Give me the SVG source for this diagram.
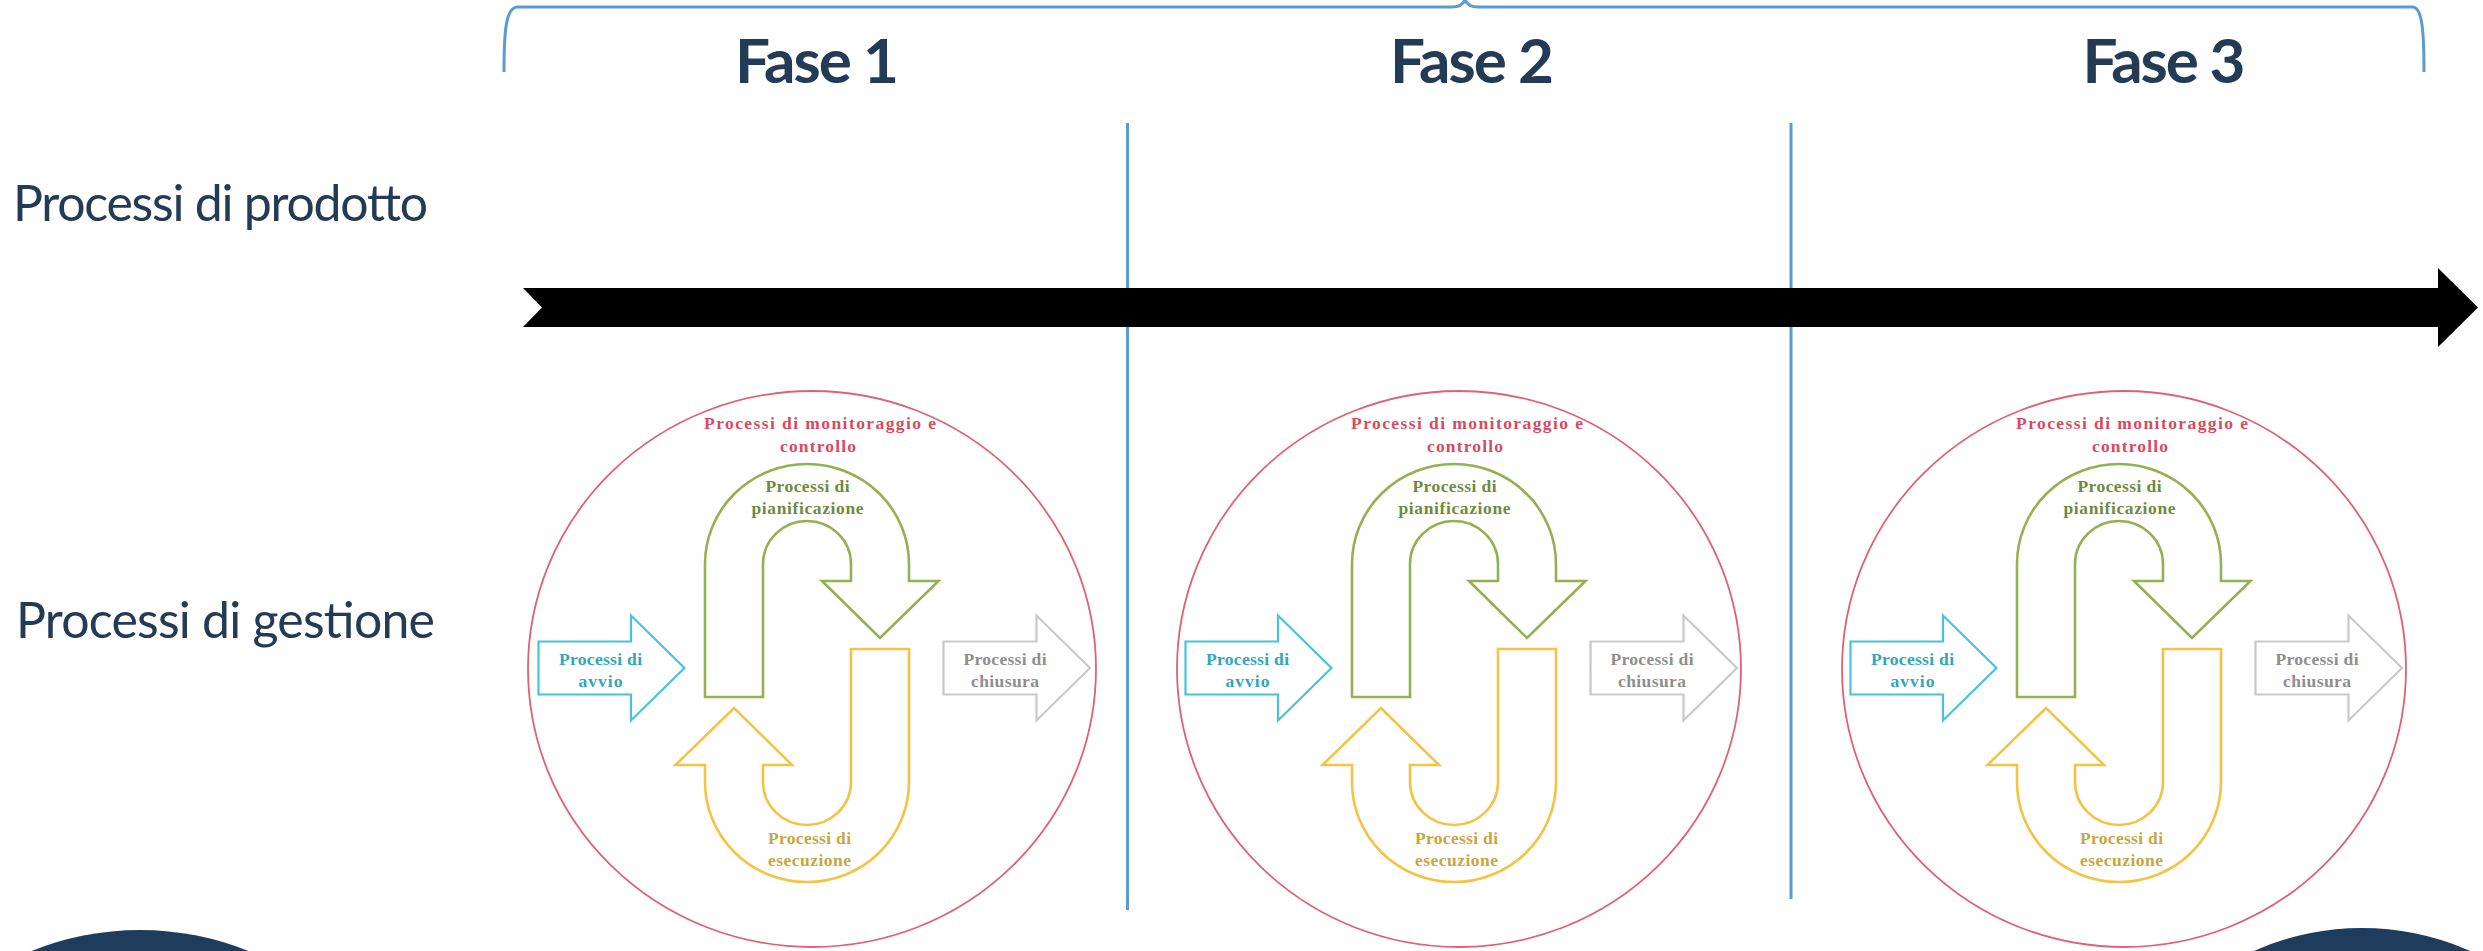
<svg xmlns="http://www.w3.org/2000/svg" width="2483" height="951" viewBox="0 0 2483 951">
<style>
.lbl{font-family:"Lato","Liberation Sans",sans-serif;fill:#243B55}
.fase{font-family:"Lato","Liberation Sans",sans-serif;font-weight:bold;font-size:62px;fill:#243B55;text-anchor:middle}
.side{font-size:50px}
.ring{fill:none;stroke:#E06272;stroke-width:1.8}
.t{font-family:"Liberation Serif","Times New Roman",serif;font-weight:bold;font-size:17.5px;text-anchor:middle}
.red{fill:#D94A5E}
.grn{fill:#6E8B3D}
.ylw{fill:#C9A53F}
.blu{fill:#2FA6BD}
.gry{fill:#8E8E8E}
.gshape{fill:#fff;stroke:#93B152;stroke-width:2.6;stroke-linejoin:miter}
.yshape{fill:#fff;stroke:#F4C343;stroke-width:2.6}
.bshape{fill:#fff;stroke:#45C3DC;stroke-width:2.2}
.cshape{fill:#fff;stroke:#C9C9C9;stroke-width:2.2}
.div{stroke:#5B9BD5;stroke-width:3;fill:none}
</style>
<defs>
<path id="uarrow" d="M -102,24 L -102,-109 A 102 100 0 0 1 102,-109 L 102,-92 L 131.5,-92 L 73,-35 L 15,-92 L 44,-92 L 44,-109 A 44 43 0 0 0 -44,-109 L -44,24 Z"/>
</defs>

<g id="connectors">
<path id="brace" class="div" d="M 504,72 C 504,30 506,8 517,7 L 1452,7 C 1460,7 1463,4 1465,0 C 1467,4 1470,7 1478,7 L 2413,7 C 2422,8 2424,30 2424,72"/>
<line id="divider1" class="div" x1="1127.5" y1="123" x2="1127.5" y2="910"/>
<line id="divider2" class="div" x1="1791" y1="123" x2="1791" y2="899"/>
<path id="timeline" fill="#000" d="M 523,288 L 2438,288 L 2438,268 L 2478,307.5 L 2438,347 L 2438,327 L 523,327 L 542,307.5 Z"/>
</g>

<g id="headers">
<text class="fase" x="817" y="83" textLength="164">Fase 1</text>
<text class="fase" x="1472" y="83" textLength="164">Fase 2</text>
<text class="fase" x="2164" y="83" textLength="163">Fase 3</text>
</g>

<g id="row-labels">
<text class="lbl side" x="13" y="221" textLength="415">Processi di prodotto</text>
<text class="lbl side" x="16" y="638" textLength="419">Processi di gestione</text>
</g>

<g id="phase1" transform="translate(812,669)">
<ellipse class="ring" cx="0" cy="0" rx="284" ry="278"/>
<text class="t red" x="8" y="-240" textLength="232">Processi di monitoraggio e</text>
<text class="t red" x="6" y="-217" textLength="76">controllo</text>
<g transform="translate(-5,4)">
<use href="#uarrow" class="gshape"/>
<use href="#uarrow" class="yshape" transform="rotate(180)"/>
</g>
<text class="t grn" x="-4.5" y="-177" textLength="84">Processi di</text>
<text class="t grn" x="-4.5" y="-155" textLength="112">pianificazione</text>
<text class="t ylw" x="-2.5" y="175" textLength="83">Processi di</text>
<text class="t ylw" x="-2.5" y="197" textLength="83">esecuzione</text>
<path class="bshape" d="M -273.5,-27.5 L -181,-27.5 L -181,-53.5 L -127.5,-1 L -181,51.5 L -181,25.5 L -273.5,25.5 Z"/>
<text class="t blu" x="-211.5" y="-4" textLength="83">Processi di</text>
<text class="t blu" x="-211.5" y="18" textLength="44">avvio</text>
<path class="cshape" d="M 131.5,-27.5 L 224.5,-27.5 L 224.5,-53.5 L 278,-1 L 224.5,51.5 L 224.5,25.5 L 131.5,25.5 Z"/>
<text class="t gry" x="193" y="-4" textLength="83">Processi di</text>
<text class="t gry" x="193" y="18" textLength="68">chiusura</text>
</g>

<g id="phase2" transform="translate(1459,669)">
<ellipse class="ring" cx="0" cy="0" rx="282" ry="278"/>
<text class="t red" x="8" y="-240" textLength="232">Processi di monitoraggio e</text>
<text class="t red" x="6" y="-217" textLength="76">controllo</text>
<g transform="translate(-5,4)">
<use href="#uarrow" class="gshape"/>
<use href="#uarrow" class="yshape" transform="rotate(180)"/>
</g>
<text class="t grn" x="-4.5" y="-177" textLength="84">Processi di</text>
<text class="t grn" x="-4.5" y="-155" textLength="112">pianificazione</text>
<text class="t ylw" x="-2.5" y="175" textLength="83">Processi di</text>
<text class="t ylw" x="-2.5" y="197" textLength="83">esecuzione</text>
<path class="bshape" d="M -273.5,-27.5 L -181,-27.5 L -181,-53.5 L -127.5,-1 L -181,51.5 L -181,25.5 L -273.5,25.5 Z"/>
<text class="t blu" x="-211.5" y="-4" textLength="83">Processi di</text>
<text class="t blu" x="-211.5" y="18" textLength="44">avvio</text>
<path class="cshape" d="M 131.5,-27.5 L 224.5,-27.5 L 224.5,-53.5 L 278,-1 L 224.5,51.5 L 224.5,25.5 L 131.5,25.5 Z"/>
<text class="t gry" x="193" y="-4" textLength="83">Processi di</text>
<text class="t gry" x="193" y="18" textLength="68">chiusura</text>
</g>

<g id="phase3" transform="translate(2124,669)">
<ellipse class="ring" cx="0" cy="0" rx="282" ry="278"/>
<text class="t red" x="8" y="-240" textLength="232">Processi di monitoraggio e</text>
<text class="t red" x="6" y="-217" textLength="76">controllo</text>
<g transform="translate(-5,4)">
<use href="#uarrow" class="gshape"/>
<use href="#uarrow" class="yshape" transform="rotate(180)"/>
</g>
<text class="t grn" x="-4.5" y="-177" textLength="84">Processi di</text>
<text class="t grn" x="-4.5" y="-155" textLength="112">pianificazione</text>
<text class="t ylw" x="-2.5" y="175" textLength="83">Processi di</text>
<text class="t ylw" x="-2.5" y="197" textLength="83">esecuzione</text>
<path class="bshape" d="M -273.5,-27.5 L -181,-27.5 L -181,-53.5 L -127.5,-1 L -181,51.5 L -181,25.5 L -273.5,25.5 Z"/>
<text class="t blu" x="-211.5" y="-4" textLength="83">Processi di</text>
<text class="t blu" x="-211.5" y="18" textLength="44">avvio</text>
<path class="cshape" d="M 131.5,-27.5 L 224.5,-27.5 L 224.5,-53.5 L 278,-1 L 224.5,51.5 L 224.5,25.5 L 131.5,25.5 Z"/>
<text class="t gry" x="193" y="-4" textLength="83">Processi di</text>
<text class="t gry" x="193" y="18" textLength="68">chiusura</text>
</g>

<g id="corner-left"><ellipse cx="140" cy="1221" rx="291" ry="291" fill="#1E3D5C"/></g>
<g id="corner-right"><ellipse cx="2362" cy="1203" rx="270" ry="275" fill="#1E3D5C"/></g>
</svg>
